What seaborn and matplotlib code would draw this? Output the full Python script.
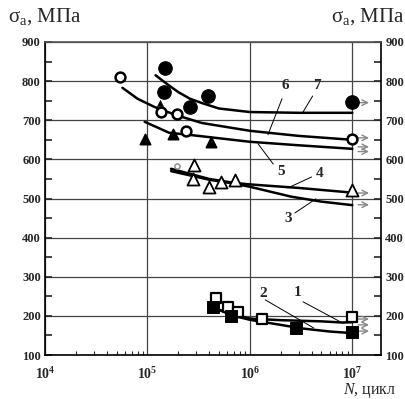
import numpy as np
import matplotlib
matplotlib.use("Agg")
import matplotlib.pyplot as plt
import seaborn as sns

# --- data ---
# 7: filled circles
n7_pts = [1.5e5, 1.45e5, 2.6e5, 3.9e5, 1e7]
s7_pts = [834, 773, 734, 762, 747]
n7_fit = [1.2e5, 1.6e5, 2e5, 2.6e5, 3.4e5, 5e5, 1e6, 3e6, 1e7]
s7_fit = [815, 790, 772, 755, 744, 730, 721, 719, 719]

# 6: open circles
n6_pts = [5.4e4, 1.36e5, 1.95e5, 2.4e5, 1e7]
s6_pts = [811, 721, 716, 673, 652]
n6_fit = [5.7e4, 8e4, 1.17e5, 1.86e5, 3.4e5, 1e6, 3e6, 1e7]
s6_fit = [783, 755, 734, 714, 693, 673, 660, 650]

# 5: filled triangles
n5_pts = [9.4e4, 1.78e5, 4.15e5]
s5_pts = [652, 665, 645]
n5_small = [1.33e5]
s5_small = [744]
n5_fit = [9.4e4, 1.63e5, 2.5e5, 1e6, 3e6, 1e7]
s5_fit = [696, 668, 663, 645, 636, 627]

# 4: open triangles
n4_pts = [2.85e5, 2.8e5, 4e5, 5.2e5, 7.2e5, 1e7]
s4_pts = [586, 550, 530, 542, 548, 522]
n4_fit = [1.7e5, 4e5, 7e5, 1e6, 3e6, 1e7]
s4_fit = [576, 550, 540, 536, 527, 515]

# 3
n3_fit = [1.7e5, 4e5, 7e5, 1e6, 2.5e6, 5e6, 1e7]
s3_fit = [570, 548, 538, 530, 505, 492, 483]

# 2: filled squares
n2_pts = [4.4e5, 6.6e5, 2.8e6, 1e7]
s2_pts = [223, 200, 169, 158]
n2_fit = [4.5e5, 7e5, 1e6, 2e6, 3.2e6, 6e6, 1e7]
s2_fit = [220, 200, 190, 177, 168, 160, 156]

# 1: open squares
n1_pts = [4.7e5, 6.1e5, 7.7e5, 1.32e6, 1e7]
s1_pts = [245, 223, 211, 192, 197]
n1_fit = [4.5e5, 7e5, 1e6, 2e6, 5e6, 8e6, 1e7]
s1_fit = [220, 203, 193, 189, 186, 183, 184]

# run-out arrows at N = 1e7
runout_sigma = [745, 655, 632, 620, 514, 484, 192, 177, 161]

curve_labels = ["1", "2", "3", "4", "5", "6", "7"]
label_pos = [(2.9e6, 261), (1.35e6, 256), (2.35e6, 448), (4.8e6, 565),
             (2.0e6, 568), (2.2e6, 788), (4.5e6, 788)]
leader_lines = [((3.3e6, 236), (8e6, 182)), ((1.41e6, 241), (4.2e6, 169)),
                ((2.75e6, 463), (4.4e6, 499)), ((4e6, 555), (2.35e6, 527)),
                ((1.69e6, 588), (1.2e6, 640)), ((2.06e6, 755), (1.5e6, 663)),
                ((4.1e6, 762), (3.3e6, 721))]

y_ticks = [100, 200, 300, 400, 500, 600, 700, 800, 900]
x_ticks = [1e4, 1e5, 1e6, 1e7]
x_ticklabels = [r"$\mathbf{10^{4}}$", r"$\mathbf{10^{5}}$", r"$\mathbf{10^{6}}$", r"$\mathbf{10^{7}}$"]

# --- style ---
sns.set_style("white")
plt.rcParams["font.family"] = ["Liberation Serif", "DejaVu Serif"]
plt.rcParams["mathtext.fontset"] = "custom"
plt.rcParams["mathtext.rm"] = "Liberation Serif"
plt.rcParams["mathtext.it"] = "Liberation Serif:italic"
plt.rcParams["mathtext.bf"] = "Liberation Serif:bold"

fig = plt.figure(figsize=(4.06, 3.99), dpi=100)
ax = fig.add_axes([45 / 406, 1 - 355 / 399, 336 / 406, 313 / 399])

ax.set_xscale("log")
ax.set_xlim(10 ** 4.034, 10 ** 7.28)
ax.set_ylim(100, 900)

ax.grid(True, which="major", color="#444444", lw=0.9)
ax.set_axisbelow(True)
for sp in ax.spines.values():
    sp.set_color("black")
    sp.set_linewidth(1.2)
ax.spines["top"].set_color("#555555")

fit_kw = dict(color="black", lw=1.8, sort=False, estimator=None, legend=False, ax=ax)
sns.lineplot(x=n7_fit, y=s7_fit, **fit_kw)
sns.lineplot(x=n6_fit, y=s6_fit, **fit_kw)
sns.lineplot(x=n5_fit, y=s5_fit, **fit_kw)
sns.lineplot(x=n4_fit, y=s4_fit, **fit_kw)
sns.lineplot(x=n3_fit, y=s3_fit, **fit_kw)
sns.lineplot(x=n1_fit, y=s1_fit, **fit_kw)
sns.lineplot(x=n2_fit, y=s2_fit, **fit_kw)

# markers
sns.scatterplot(x=n7_pts, y=s7_pts, marker="o", s=95, color="black", edgecolor="black", zorder=5, ax=ax)
sns.scatterplot(x=n6_pts, y=s6_pts, marker="o", s=50, color="white", edgecolor="black", linewidth=1.8, zorder=5, ax=ax)
sns.scatterplot(x=n5_pts, y=s5_pts, marker="^", s=55, color="black", edgecolor="black", linewidth=1.2, zorder=5, ax=ax)
sns.scatterplot(x=n5_small, y=s5_small, marker="^", s=20, color="black", edgecolor="black", zorder=5, ax=ax)
sns.scatterplot(x=n4_pts, y=s4_pts, marker="^", s=75, color="white", edgecolor="black", linewidth=1.3, zorder=5, ax=ax)
sns.scatterplot(x=[1.95e5], y=[583], marker="o", s=14, color="white", edgecolor="#888888", linewidth=1, zorder=5, ax=ax)
sns.scatterplot(x=n1_pts, y=s1_pts, marker="s", s=60, color="white", edgecolor="black", linewidth=1.6, zorder=5, ax=ax)
sns.scatterplot(x=n2_pts, y=s2_pts, marker="s", s=75, color="black", edgecolor="black", zorder=6, ax=ax)

# run-out arrows
for s in runout_sigma:
    ax.annotate("", xy=(1.55e7, s), xytext=(1.07e7, s),
                arrowprops=dict(arrowstyle="->", color="#888888", lw=1.0), zorder=4)

# curve numbers and leaders
for lab, (xp, yp) in zip(curve_labels, label_pos):
    ax.text(xp, yp, lab, fontsize=11, fontweight="bold", ha="center", va="center")
for (a, b) in leader_lines:
    ax.plot([a[0], b[0]], [a[1], b[1]], color="black", lw=0.7)

# ticks
ax.set_yticks(y_ticks)
ax.set_yticks(np.arange(150, 900, 100), minor=True)
ax.set_yticklabels([str(v) for v in y_ticks], fontsize=9, fontweight="bold")
ax.tick_params(axis="y", which="both", direction="in", left=True, right=True,
               labelleft=True, labelright=True, length=5, width=1.2, pad=3)
ax.set_xticks(x_ticks)
ax.set_xticklabels(x_ticklabels, fontsize=10)
ax.tick_params(axis="x", which="major", direction="in", length=0, pad=8, bottom=True)
ax.tick_params(axis="x", which="minor", direction="in", length=3, width=0.8, bottom=True, top=False)
ax.xaxis.set_minor_locator(matplotlib.ticker.LogLocator(base=10, subs=np.arange(2, 10)))
ax.xaxis.set_minor_formatter(matplotlib.ticker.NullFormatter())

ax.set_xlabel("")
ax.set_ylabel("")

fig.text(8 / 406, 1 - 17 / 399, r"σ$_\mathrm{a}$, МПа", fontsize=15, ha="left", va="center")
fig.text(405 / 406, 1 - 17 / 399, r"σ$_\mathrm{a}$, МПа", fontsize=15, ha="right", va="center")
fig.text(343 / 406, 1 - 390 / 399, r"$\mathit{N}$, цикл", fontsize=11.5, ha="left", va="center")

fig.savefig("out.png", dpi=100)
